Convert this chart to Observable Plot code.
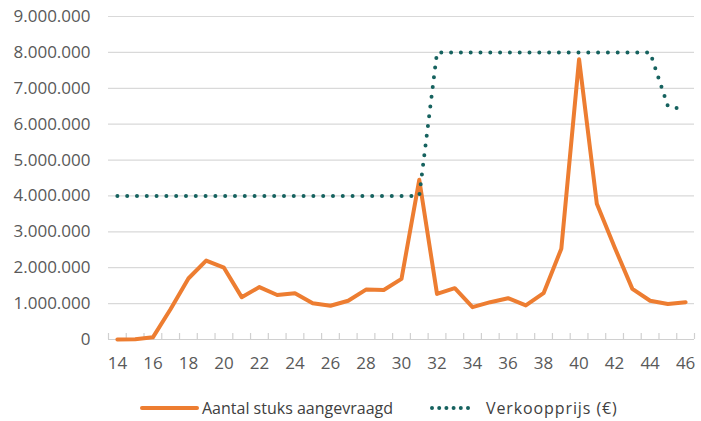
<!DOCTYPE html>
<html>
<head>
<meta charset="utf-8">
<script src="https://cdn.jsdelivr.net/npm/d3@7"></script>
<script src="https://cdn.jsdelivr.net/npm/@observablehq/plot@0.6"></script>
<style>
  html, body { margin: 0; padding: 0; background: #fff; }
  body { width: 701px; height: 421px; overflow: hidden; font-family: "Open Sans", sans-serif; }
  #legend { height: 41px; box-sizing: border-box; padding-top: 14px; display: flex; align-items: center; padding-left: 140px; font-size: 16px; color: #404040; }
  #legend .item { display: flex; align-items: center; }
  #legend svg { display: block; }
</style>
</head>
<body>
<div id="chart"></div>
<div id="legend"></div>
<script>
const weeks = [14,15,16,17,18,19,20,21,22,23,24,25,26,27,28,29,30,31,32,33,34,35,36,37,38,39,40,41,42,43,44,45,46];
const aantal = [0, 10000, 60000, 850000, 1700000, 2200000, 2000000, 1180000, 1460000, 1240000, 1290000, 1010000, 940000, 1080000, 1390000, 1380000, 1690000, 4450000, 1270000, 1430000, 900000, 1040000, 1150000, 950000, 1290000, 2530000, 7810000, 3780000, 2570000, 1410000, 1080000, 990000, 1040000];
const prijs = [4000000,4000000,4000000,4000000,4000000,4000000,4000000,4000000,4000000,4000000,4000000,4000000,4000000,4000000,4000000,4000000,4000000,4000000,8000000,8000000,8000000,8000000,8000000,8000000,8000000,8000000,8000000,8000000,8000000,8000000,8000000,6500000,6400000];
const seriesNames = ["Aantal stuks aangevraagd", "Verkoopprijs (€)"];
const xTickLabels = [14,16,18,20,22,24,26,28,30,32,34,36,38,40,42,44,46];
const yTicks = [0,1000000,2000000,3000000,4000000,5000000,6000000,7000000,8000000,9000000];

const orange = "#ed7d31";
const teal = "#16625f";
const nl = d3.formatLocale({decimal: ",", thousands: ".", grouping: [3], currency: ["€", ""]});
const fmt = nl.format(",");

const rowsA = weeks.map((w, i) => ({week: w, value: aantal[i]}));
const rowsP = weeks.map((w, i) => ({week: w, value: prijs[i]}));
const between = d3.range(weeks[0] - 0.5, weeks[weeks.length - 1] + 1, 1);

const chart = Plot.plot({
  width: 701,
  height: 380,
  marginTop: 16,
  marginBottom: 41,
  marginLeft: 108,
  marginRight: 7,
  style: {fontFamily: "Open Sans, sans-serif", fontSize: "17px", color: "#595959", background: "#fff"},
  x: {domain: [weeks[0] - 0.5, weeks[weeks.length - 1] + 0.5], label: null},
  y: {domain: [0, 9000000], label: null},
  marks: [
    Plot.gridY(yTicks.slice(1), {stroke: "#d9d9d9", strokeOpacity: 1, strokeWidth: 1.2}),
    Plot.ruleY([0], {stroke: "#d0d0d0", strokeWidth: 1.2}),
    Plot.ruleX(between, {x: d => d, y1: 0, y2: 0, insetTop: -6, stroke: "#d0d0d0", strokeWidth: 1.2}),
    Plot.axisY(yTicks, {tickSize: 0, tickPadding: 18, tickFormat: fmt, fill: "#595959", fontSize: 17, label: null}),
    Plot.axisX(xTickLabels, {tickSize: 0, tickPadding: 17, tickFormat: d => String(d), fill: "#595959", fontSize: 17, label: null}),
    Plot.line(rowsA, {x: "week", y: "value", stroke: orange, strokeWidth: 4, strokeLinejoin: "round", strokeLinecap: "round"}),
    Plot.line(rowsP, {x: "week", y: "value", stroke: teal, strokeWidth: 4, strokeDasharray: "0 9.8", strokeLinecap: "round"})
  ]
});
document.getElementById("chart").appendChild(chart);

const legend = document.getElementById("legend");
legend.innerHTML = `
  <div class="item"><svg width="62" height="10"><line x1="2" y1="5" x2="57" y2="5" stroke="${orange}" stroke-width="4" stroke-linecap="round"/></svg><span>${seriesNames[0]}</span></div>
  <div class="item" style="margin-left:36px"><svg width="57" height="10"><line x1="3" y1="5" x2="40" y2="5" stroke="${teal}" stroke-width="4" stroke-dasharray="0 7.2" stroke-linecap="round"/></svg><span style="letter-spacing:0.9px">${seriesNames[1]}</span></div>
`;
</script>
</body>
</html>
